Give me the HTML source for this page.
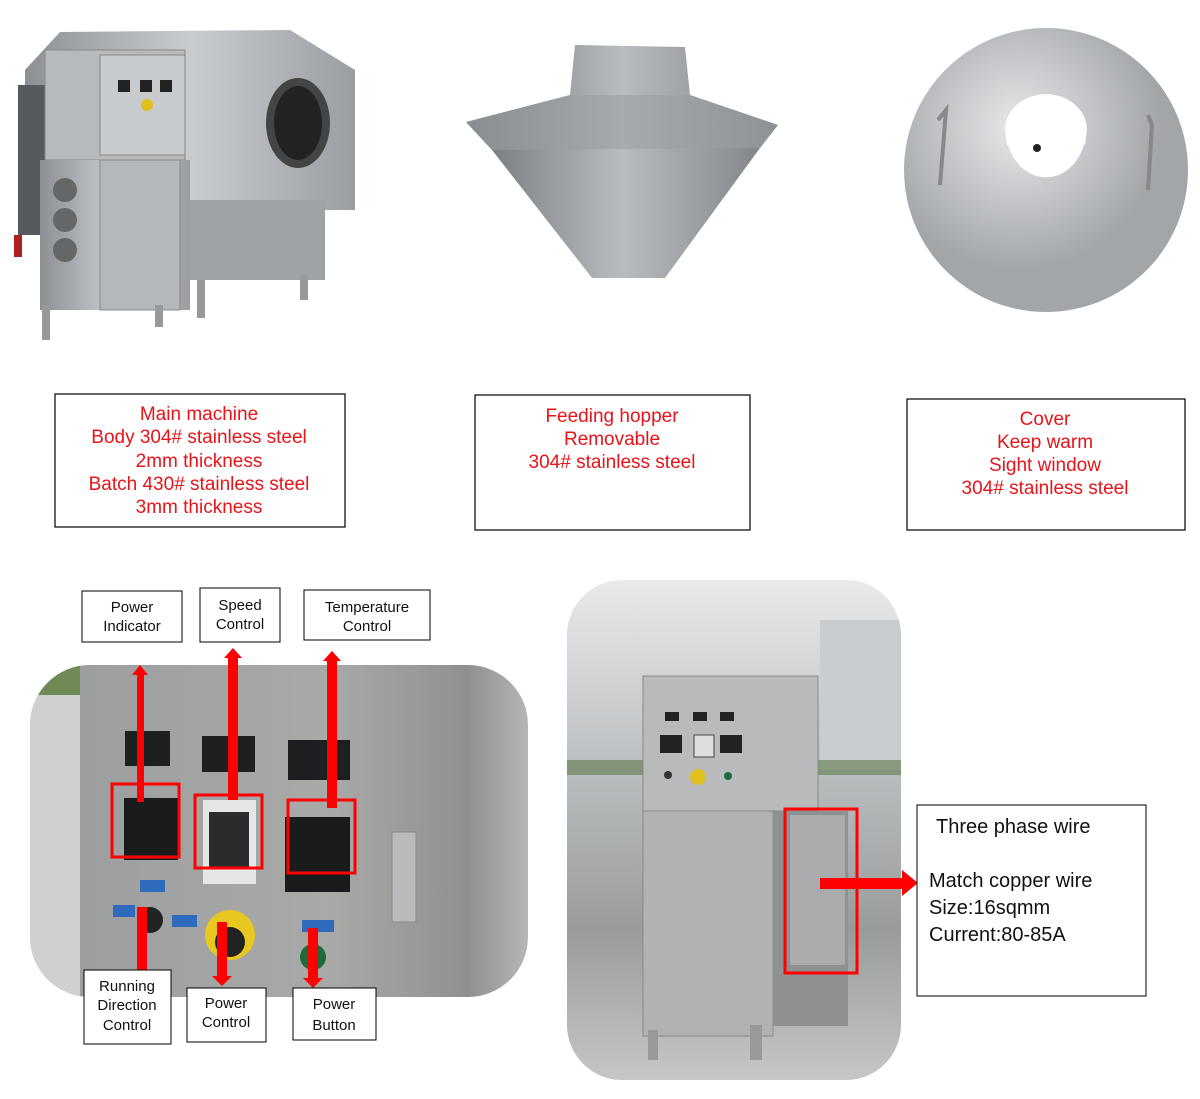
<!DOCTYPE html>
<html><head><meta charset="utf-8"><style>
html,body{margin:0;padding:0;background:#fff;width:1200px;height:1099px;overflow:hidden}
.t{font-family:"Liberation Sans",sans-serif}
</style></head><body>
<svg width="1200" height="1099" viewBox="0 0 1200 1099" xmlns="http://www.w3.org/2000/svg">
<defs>
<linearGradient id="st" x1="0" x2="1"><stop offset="0" stop-color="#8c9094"/><stop offset="0.5" stop-color="#c9cccf"/><stop offset="1" stop-color="#9a9ea2"/></linearGradient>
<linearGradient id="hop" x1="0" x2="1"><stop offset="0" stop-color="#6f7377"/><stop offset="0.5" stop-color="#b9bcbf"/><stop offset="1" stop-color="#7c8084"/></linearGradient>
<radialGradient id="cov" cx="0.4" cy="0.35"><stop offset="0" stop-color="#e6e8ea"/><stop offset="1" stop-color="#a3a6a9"/></radialGradient>
<linearGradient id="pan" x1="0" x2="1"><stop offset="0" stop-color="#c6c8c9"/><stop offset="0.1" stop-color="#9d9e9f"/><stop offset="0.6" stop-color="#a9a9a8"/><stop offset="0.88" stop-color="#8f9090"/><stop offset="1" stop-color="#b5b6b6"/></linearGradient>
<linearGradient id="bg2" x1="0" y1="0" x2="0" y2="1"><stop offset="0" stop-color="#e8eaec"/><stop offset="0.4" stop-color="#b8bbbd"/><stop offset="0.7" stop-color="#9a9c9c"/><stop offset="1" stop-color="#c5c6c6"/></linearGradient>
<clipPath id="c1"><rect x="30" y="665" width="498" height="332" rx="60"/></clipPath>
<clipPath id="c2"><rect x="567" y="580" width="334" height="500" rx="55"/></clipPath>
</defs>

<!-- main machine -->
<g>
<polygon points="25,70 60,32 290,30 355,70 355,210 25,210" fill="url(#st)"/>
<rect x="18" y="85" width="32" height="150" fill="#555a5f"/>
<rect x="45" y="50" width="140" height="110" fill="#b7babd" stroke="#888" />
<rect x="100" y="55" width="85" height="100" fill="#c8cbcd" stroke="#888"/>
<rect x="118" y="80" width="12" height="12" fill="#222"/><rect x="140" y="80" width="12" height="12" fill="#222"/><rect x="160" y="80" width="12" height="12" fill="#222"/>
<circle cx="147" cy="105" r="6" fill="#e0c020"/>
<rect x="40" y="160" width="150" height="150" fill="url(#st)"/>
<rect x="100" y="160" width="80" height="150" fill="#b5b8ba" stroke="#888"/>
<circle cx="65" cy="190" r="12" fill="#666"/><circle cx="65" cy="220" r="12" fill="#666"/><circle cx="65" cy="250" r="12" fill="#666"/>
<rect x="190" y="200" width="135" height="80" fill="#9ea2a5"/>
<ellipse cx="298" cy="123" rx="32" ry="45" fill="#444"/><ellipse cx="298" cy="123" rx="24" ry="37" fill="#222"/>
<rect x="42" y="305" width="8" height="35" fill="#999"/><rect x="155" y="305" width="8" height="22" fill="#999"/><rect x="197" y="280" width="8" height="38" fill="#999"/><rect x="300" y="275" width="8" height="25" fill="#999"/>
<rect x="14" y="235" width="8" height="22" fill="#b02020"/>
</g>

<!-- hopper -->
<polygon points="575,45 685,47 690,95 778,125 760,148 665,278 592,278 492,150 466,122 570,95" fill="url(#hop)"/>
<polygon points="466,122 570,95 690,95 778,125 760,148 492,150" fill="#9a9ea2" opacity="0.6"/>

<!-- cover -->
<circle cx="1046" cy="170" r="142" fill="url(#cov)"/>
<path d="M1007,140 A40,28 0 0 1 1085,140 A40,48 0 0 1 1007,140Z" fill="#fff"/>
<path d="M1005,130 A40,35 0 0 1 1087,130 L1085,145 L1007,145Z" fill="#fff"/>
<circle cx="1037" cy="148" r="4" fill="#222"/>
<path d="M938,120 L946,110 L940,185" stroke="#888" stroke-width="4" fill="none"/>
<path d="M1148,115 L1152,125 L1148,190" stroke="#888" stroke-width="4" fill="none"/>

<!-- text boxes -->
<g class="t" font-size="19" fill="#e8141a" text-anchor="middle">
<rect x="55" y="394" width="290" height="133" fill="#fff" stroke="#000" stroke-width="1.2"/>
<text x="199" y="420">Main machine</text>
<text x="199" y="443">Body 304# stainless steel</text>
<text x="199" y="467">2mm thickness</text>
<text x="199" y="490">Batch 430# stainless steel</text>
<text x="199" y="513">3mm thickness</text>
<rect x="475" y="395" width="275" height="135" fill="#fff" stroke="#000" stroke-width="1.2"/>
<text x="612" y="422">Feeding hopper</text>
<text x="612" y="445">Removable</text>
<text x="612" y="468">304# stainless steel</text>
<rect x="907" y="399" width="278" height="131" fill="#fff" stroke="#000" stroke-width="1.2"/>
<text x="1045" y="425">Cover</text>
<text x="1045" y="448">Keep warm</text>
<text x="1045" y="471">Sight window</text>
<text x="1045" y="494">304# stainless steel</text>
</g>

<!-- panel photo -->
<g clip-path="url(#c1)">
<rect x="30" y="665" width="498" height="332" fill="url(#pan)"/>
<rect x="30" y="665" width="50" height="332" fill="#cfd0d0"/>
<rect x="30" y="665" width="50" height="30" fill="#6f8a55"/>
<rect x="125" y="731" width="45" height="35" fill="#1e1f21"/>
<rect x="202" y="736" width="53" height="36" fill="#1e1f21"/>
<rect x="288" y="740" width="62" height="40" fill="#1e1f21"/>
<rect x="124" y="798" width="54" height="62" fill="#1a1b1d"/>
<rect x="203" y="800" width="53" height="84" fill="#e5e6e6"/>
<rect x="209" y="812" width="40" height="55" fill="#2a2b2d"/>
<rect x="285" y="817" width="65" height="75" fill="#1a1b1d"/>
<rect x="392" y="832" width="24" height="90" fill="#b8babb" stroke="#888"/>
<rect x="140" y="880" width="25" height="12" fill="#2f6bbd"/>
<rect x="113" y="905" width="22" height="12" fill="#2f6bbd"/><rect x="172" y="915" width="25" height="12" fill="#2f6bbd"/>
<circle cx="150" cy="920" r="13" fill="#222"/>
<circle cx="230" cy="935" r="25" fill="#e8c820"/><circle cx="230" cy="942" r="15" fill="#222"/>
<rect x="302" y="920" width="32" height="12" fill="#2f6bbd"/>
<circle cx="313" cy="957" r="13" fill="#1d6a3a"/>
</g>
<g fill="none" stroke="#f00" stroke-width="3">
<rect x="112" y="784" width="67" height="73"/>
<rect x="195" y="795" width="67" height="73"/>
<rect x="288" y="800" width="67" height="73"/>
</g>
<g fill="#f00">
<rect x="137" y="672" width="7" height="130"/><polygon points="132,675 140,665 148,675"/>
<rect x="228" y="655" width="10" height="145"/><polygon points="224,658 233,648 242,658"/>
<rect x="327" y="658" width="10" height="150"/><polygon points="323,661 332,651 341,661"/>
<rect x="137" y="907" width="10" height="65"/>
<rect x="217" y="922" width="10" height="55"/><polygon points="212,976 222,986 232,976"/>
<rect x="308" y="928" width="10" height="50"/><polygon points="303,978 313,988 323,978"/>
</g>
<g class="t" font-size="15" fill="#111" text-anchor="middle">
<rect x="82" y="591" width="100" height="51" fill="#fff" stroke="#000"/>
<text x="132" y="612">Power</text><text x="132" y="631">Indicator</text>
<rect x="200" y="588" width="80" height="54" fill="#fff" stroke="#000"/>
<text x="240" y="610">Speed</text><text x="240" y="629">Control</text>
<rect x="304" y="590" width="126" height="50" fill="#fff" stroke="#000"/>
<text x="367" y="612">Temperature</text><text x="367" y="631">Control</text>
<rect x="84" y="970" width="87" height="74" fill="#fff" stroke="#000"/>
<text x="127" y="991">Running</text><text x="127" y="1010">Direction</text><text x="127" y="1030">Control</text>
<rect x="187" y="988" width="79" height="54" fill="#fff" stroke="#000"/>
<text x="226" y="1008">Power</text><text x="226" y="1027">Control</text>
<rect x="293" y="988" width="83" height="52" fill="#fff" stroke="#000"/>
<text x="334" y="1009">Power</text><text x="334" y="1030">Button</text>
</g>

<!-- cabinet photo -->
<g clip-path="url(#c2)">
<rect x="567" y="580" width="334" height="500" fill="url(#bg2)"/>
<rect x="820" y="620" width="81" height="150" fill="#c9cdd0"/>
<rect x="567" y="760" width="334" height="15" fill="#5e7a4a" opacity="0.6"/>
<rect x="643" y="676" width="175" height="135" fill="#b8babb" stroke="#888"/>
<rect x="643" y="811" width="130" height="225" fill="#b0b2b3" stroke="#888"/>
<rect x="773" y="811" width="75" height="215" fill="#8e9091"/>
<rect x="790" y="815" width="55" height="150" fill="#a9abac"/>
<rect x="665" y="712" width="14" height="9" fill="#222"/><rect x="693" y="712" width="14" height="9" fill="#222"/><rect x="720" y="712" width="14" height="9" fill="#222"/>
<rect x="660" y="735" width="22" height="18" fill="#222"/><rect x="694" y="735" width="20" height="22" fill="#ddd" stroke="#444"/><rect x="720" y="735" width="22" height="18" fill="#222"/>
<circle cx="698" cy="777" r="8" fill="#e0c020"/><circle cx="668" cy="775" r="4" fill="#333"/><circle cx="728" cy="776" r="4" fill="#1d6a3a"/>
<rect x="648" y="1030" width="10" height="30" fill="#999"/><rect x="750" y="1025" width="12" height="35" fill="#999"/>
</g>
<rect x="785" y="809" width="72" height="164" fill="none" stroke="#f00" stroke-width="3"/>
<rect x="820" y="878" width="84" height="11" fill="#f00"/>
<polygon points="902,870 918,883 902,896" fill="#f00"/>
<rect x="917" y="805" width="229" height="191" fill="#fff" stroke="#000"/>
<g class="t" font-size="20" fill="#111">
<text x="936" y="833">Three phase wire</text>
<text x="929" y="887">Match copper wire</text>
<text x="929" y="914">Size:16sqmm</text>
<text x="929" y="941">Current:80-85A</text>
</g>
</svg>
</body></html>
